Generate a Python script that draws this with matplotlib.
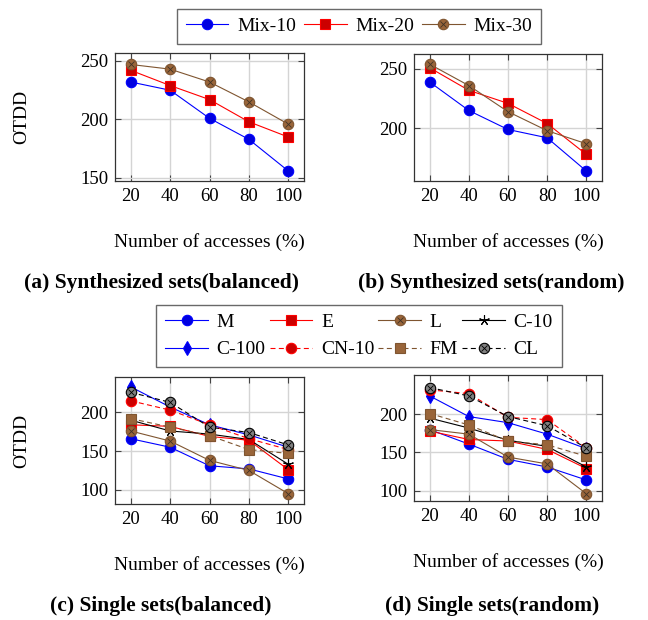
import matplotlib
matplotlib.use("Agg")
import matplotlib.pyplot as plt

plt.rcParams['font.family'] = ['Liberation Serif', 'DejaVu Serif']
plt.rcParams['font.size'] = 13

# ---- data -------------------------------------------------------------
access = [20, 40, 60, 80, 100]

mix10_bal = [232, 225, 201, 183, 156]
mix20_bal = [242, 229, 217, 198, 185]
mix30_bal = [247, 243, 232, 215, 196]

mix10_rand = [239, 215, 199, 192, 164]
mix20_rand = [251, 232, 221, 204, 178]
mix30_rand = [254, 236, 214, 198, 187]

single_names = ["M", "E", "L", "C-10", "C-100", "CN-10", "FM", "CL"]
single_bal = {
    "M":     [166, 155, 131, 127, 114],
    "E":     [184, 182, 169, 164, 126],
    "L":     [176, 163, 138, 125, 95],
    "C-10":  [190, 176, 172, 165, 133],
    "C-100": [233, 207, 184, 171, 155],
    "CN-10": [215, 203, 184, 166, 152],
    "FM":    [192, 181, 170, 152, 147],
    "CL":    [226, 213, 181, 174, 158],
}
single_rand = {
    "M":     [180, 161, 141, 131, 114],
    "E":     [178, 167, 165, 154, 129],
    "L":     [180, 174, 144, 135, 96],
    "C-10":  [195, 182, 166, 158, 131],
    "C-100": [224, 197, 189, 174, 155],
    "CN-10": [232, 227, 196, 193, 156],
    "FM":    [201, 186, 165, 160, 145],
    "CL":    [235, 224, 197, 185, 156],
}

# ---- styles (pgfplots-like cycle) --------------------------------------
BLUE, BLUE_F = "#0000ff", "#0000e0"
RED, RED_F = "#ff0000", "#cc0000"
BROWN, BROWN_F = "#7f5530", "#99653a"
BLACK, GRAY_F = "#000000", "#808080"
DASH = (0, (4.5, 3))

styles = [
    dict(color=BLUE, marker="o", mfc=BLUE_F, mec=BLUE, ls="-", x=False),
    dict(color=RED, marker="s", mfc=RED_F, mec=RED, ls="-", x=False),
    dict(color=BROWN, marker="o", mfc=BROWN_F, mec=BROWN, ls="-", x=True),
    dict(color=BLACK, marker=(5, 2, 0), mfc=BLACK, mec=BLACK, ls="-", x=False),
    dict(color=BLUE, marker="d", mfc=BLUE_F, mec=BLUE, ls="-", x=False),
    dict(color=RED, marker="o", mfc=RED_F, mec=RED, ls=DASH, x=False),
    dict(color=BROWN, marker="s", mfc=BROWN_F, mec=BROWN, ls=DASH, x=False),
    dict(color=BLACK, marker="o", mfc=GRAY_F, mec=BLACK, ls=DASH, x=True),
]

MS = 7.5
LW = 0.8
LABEL_FS = 14
TICK_FS = 13.5


def draw_series(ax, xs, ys, st, label):
    ms = MS if st["marker"] != "d" else MS - 0.5
    line, = ax.plot(xs, ys, color=st["color"], ls=st["ls"], lw=LW,
                    marker=st["marker"], ms=ms, mfc=st["mfc"], mec=st["mec"],
                    mew=0.8, label=label, zorder=3)
    handle = line
    if st["x"]:
        cross, = ax.plot(xs, ys, ls="none", marker="x", ms=MS * 0.6,
                         mec=(0.25, 0.2, 0.15) if st["color"] != BLACK else BLACK,
                         mew=0.6, zorder=4)
        handle = (line, cross)
    return handle


def style_axes(ax, yticks, ylim):
    ax.set_xlim(12, 108)
    ax.set_ylim(*ylim)
    ax.set_xticks(access)
    ax.set_yticks(yticks)
    ax.grid(True, color="#d4d4d4", lw=1.0, zorder=0)
    ax.set_axisbelow(True)
    ax.tick_params(direction="in", length=4, width=0.8, color="#444444",
                   top=True, right=True, labelsize=TICK_FS, pad=5)
    for sp in ax.spines.values():
        sp.set_color("#333333")
        sp.set_linewidth(0.9)
    ax.set_xlabel("Number of accesses (%)", fontsize=LABEL_FS, labelpad=20)


W, H = 648, 620
fig = plt.figure(figsize=(W / 100, H / 100), dpi=100)


def add_axes(left, top, right, bottom):
    return fig.add_axes([left / W, 1 - bottom / H, (right - left) / W, (bottom - top) / H])


ax_a = add_axes(115, 53, 304, 181)
ax_b = add_axes(414, 54, 602, 181)
ax_c = add_axes(115, 377, 304, 504)
ax_d = add_axes(414, 375, 602, 501)

# top row: mixed sets
mix_labels = ["Mix-10", "Mix-20", "Mix-30"]
mix_handles = []
for ax, series in ((ax_a, (mix10_bal, mix20_bal, mix30_bal)),
                   (ax_b, (mix10_rand, mix20_rand, mix30_rand))):
    mix_handles = [draw_series(ax, access, ys, st, lab)
                   for ys, st, lab in zip(series, styles[:3], mix_labels)]

style_axes(ax_a, [150, 200, 250], (147.4, 256.8))
style_axes(ax_b, [200, 250], (155.6, 262.6))

# bottom row: single sets
single_handles = []
for ax, data in ((ax_c, single_bal), (ax_d, single_rand)):
    single_handles = [draw_series(ax, access, data[name], st, name)
                      for name, st in zip(single_names, styles)]

style_axes(ax_c, [100, 150, 200], (81.6, 245.8))
style_axes(ax_d, [100, 150, 200], (86.5, 251.4))

for ax in (ax_a, ax_c):
    ax.set_ylabel("OTDD", fontsize=LABEL_FS)
    ax.yaxis.set_label_coords(-0.45, 0.5)

# legends
leg_kw = dict(loc="center", frameon=True, fancybox=False, fontsize=LABEL_FS,
              handlelength=2.2, handletextpad=0.45,
              borderpad=0.45, borderaxespad=0)
leg1 = fig.legend(mix_handles, mix_labels, ncol=3, columnspacing=0.4,
                  bbox_to_anchor=(359 / W, 1 - 26.5 / H), **leg_kw)

# legend fills column by column; order entries so they read row by row
ncol = 4
order = [r * ncol + c for c in range(ncol) for r in range(2)]
leg2 = fig.legend([single_handles[i] for i in order],
                  [single_names[i] for i in order], ncol=ncol,
                  columnspacing=0.2,
                  bbox_to_anchor=(359 / W, 1 - 336 / H), **leg_kw)
for leg in (leg1, leg2):
    fr = leg.get_frame()
    fr.set_edgecolor("#444444")
    fr.set_linewidth(1.0)

# captions
cap_kw = dict(ha="center", va="center", fontsize=15.5, fontweight="bold")
fig.text(162 / W, 1 - 283 / H, "(a) Synthesized sets(balanced)", **cap_kw)
fig.text(491 / W, 1 - 283 / H, "(b) Synthesized sets(random)", **cap_kw)
fig.text(161 / W, 1 - 606 / H, "(c) Single sets(balanced)", **cap_kw)
fig.text(492 / W, 1 - 606 / H, "(d) Single sets(random)", **cap_kw)

fig.savefig("out.png", dpi=100)
